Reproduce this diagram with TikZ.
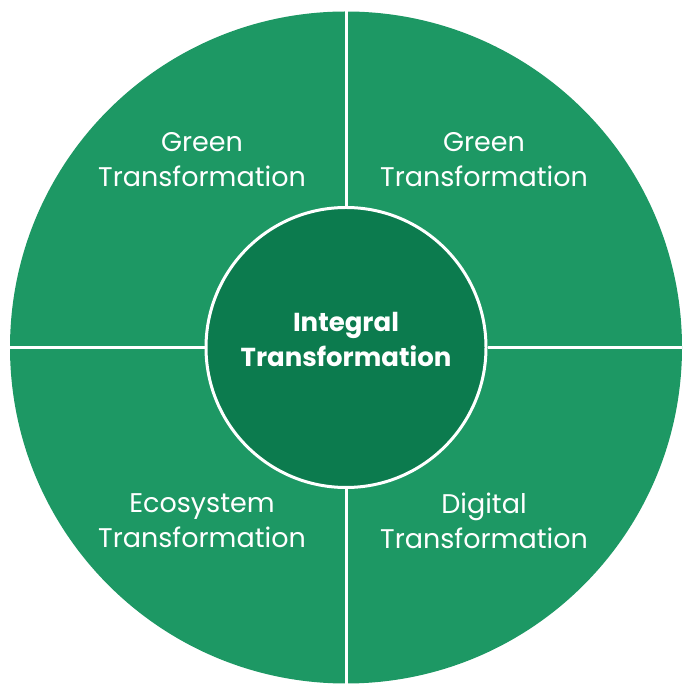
\documentclass[tikz,border=0pt]{standalone}
\usepackage{fontspec}
\setmainfont{Poppins}
\definecolor{outergreen}{RGB}{29,152,100}
\definecolor{innergreen}{RGB}{12,123,78}
\begin{document}
\begin{tikzpicture}[x=1pt,y=1pt,
  lbl/.style={text=white,font=\fontsize{27}{35}\selectfont,align=center,inner sep=0pt},
  clbl/.style={text=white,font=\fontsize{26}{35}\selectfont\bfseries,align=center,inner sep=0pt},
  divider/.style={draw=white,line width=3pt}]
\useasboundingbox (0,0) rectangle (690,690);
\node[circle,fill=outergreen,minimum size=672pt,inner sep=0pt] (O) at (346,342.5) {};
\node[circle,fill=innergreen,draw=white,line width=3pt,minimum size=280pt,inner sep=0pt] (I) at (346,342.5) {};
\draw[divider] (O.north) -- (I.north);
\draw[divider] (O.south) -- (I.south);
\draw[divider] (O.west) -- (I.west);
\draw[divider] (O.east) -- (I.east);
\node[clbl] (c) at (346,350.5) {Integral\\Transformation};
\node[lbl] (tl) at (202,530.5) {Green\\Transformation};
\node[lbl] (tr) at (484,530.5) {Green\\Transformation};
\node[lbl] (bl) at (202,169.5) {Ecosystem\\Transformation};
\node[lbl] (br) at (484,169.5) {Digital\\Transformation};
\end{tikzpicture}
\end{document}
